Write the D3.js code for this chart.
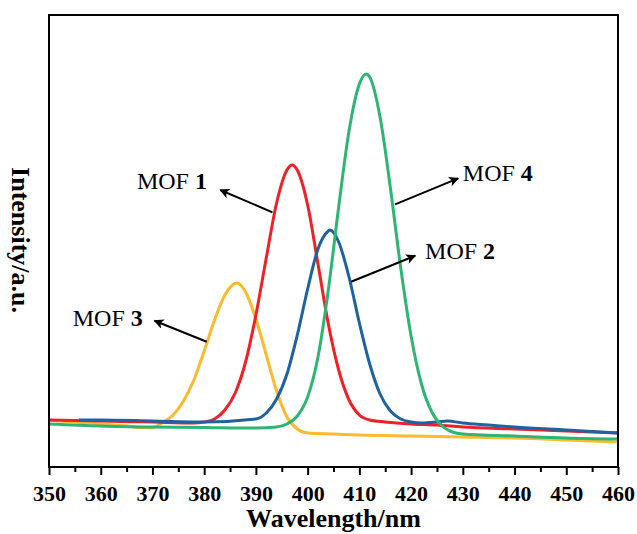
<!DOCTYPE html>
<meta charset="utf-8">
<script src="https://d3js.org/d3.v7.min.js"></script>
<style type="text/css">
body { margin: 0; background: #fff; }
.chart text { font-family: "Liberation Serif", "Times New Roman", serif; fill: #000; }
.axis line { stroke: #000; stroke-width: 2; }
.axis text { font-size: 22px; font-weight: bold; }
.titulo { font-size: 26px; font-weight: bold; }
.rotulo { font-size: 24px; }
.serie { fill: none; stroke-width: 3; stroke-linejoin: round; }
</style>
<body>
<div id="canvas"></div>
<script>

var mof1_nm = [350, 360, 370, 378, 380, 382, 384, 386, 388, 390, 392, 394, 396, 397, 398, 400, 402, 404, 406, 408, 410, 412, 415, 420, 425, 430, 440, 450, 460];
var mof1_int = [47, 46, 45, 44, 45, 48, 57, 74, 105, 152, 209, 264, 297, 302, 297, 262, 203, 143, 97, 67, 52, 47, 45, 43, 42, 40, 38, 36, 34];

var mof2_nm = [355.8, 360, 370, 380, 390, 392, 394, 396, 398, 400, 402, 404, 404.3, 406, 408, 410, 412, 414, 416, 418, 420, 422, 425, 427, 430, 435, 440, 450, 460];
var mof2_int = [47, 47, 46, 45, 48, 54, 68, 93, 132, 178, 218, 236, 237, 225, 190, 144, 103, 73, 56, 48, 45, 44, 45, 46, 44, 42, 40, 37, 34];

var mof3_nm = [350, 355, 360, 365, 368, 370, 372, 374, 376, 378, 380, 382, 384, 386.3, 388, 390, 392, 394, 396, 398, 400, 405, 410, 420, 430, 440, 450, 460];
var mof3_int = [47, 45, 43, 41, 39.5, 39.5, 44.5, 52, 66, 87, 116, 147, 172, 184, 175, 148, 112, 76, 50, 38, 34, 33, 32, 31, 30, 29, 27, 25];

var mof4_nm = [350, 360, 370, 380, 390, 394, 396, 398, 400, 402, 404, 406, 408, 410, 411.3, 412, 414, 416, 418, 420, 422, 424, 426, 428, 430, 440, 450, 460];
var mof4_int = [43, 41, 40, 39.5, 39, 40, 43, 51, 70, 110, 177, 260, 336, 383, 393, 390, 350, 279, 199, 131, 83, 55, 41, 35, 33, 31, 29, 28];

var series = [
	{"nome": "3", "cor": "#FCBA2C", "nm": mof3_nm, "int": mof3_int},
	{"nome": "1", "cor": "#EE2127", "nm": mof1_nm, "int": mof1_int},
	{"nome": "2", "cor": "#1F62A0", "nm": mof2_nm, "int": mof2_int},
	{"nome": "4", "cor": "#2FB573", "nm": mof4_nm, "int": mof4_int}
];

// rotulos: posicao do texto e da seta em coordenadas de dados
var rotulos = [
	{"nome": "1", "texto": [367.0, 278], "de": [393.2, 254.7], "para": [383.1, 277]},
	{"nome": "3", "texto": [354.6, 141.3], "de": [380.5, 125.3], "para": [370.4, 146.3]},
	{"nome": "4", "texto": [430.0, 286.3], "de": [416.9, 262.7], "para": [429.1, 288.7]},
	{"nome": "2", "texto": [422.7, 208], "de": [408.4, 185.3], "para": [420.8, 211.3]}
];

var ticks_maior = d3.range(350, 461, 10);
var ticks_menor = d3.range(355, 460, 10);

var width = 637;
var height = 534;
var margin = {top: 15, right: 19, bottom: 67, left: 49};

var svg = d3.select('#canvas')
	.append("svg")
	.attr("class", "chart")
	.attr("width", width)
	.attr("height", height);

var x = d3.scaleLinear()
	.domain([350, 460])
	.range([margin.left, width - margin.right]);

var y = d3.scaleLinear()
	.domain([0, 452])
	.range([height - margin.bottom, margin.top]);

// seta
svg.append("defs").append("marker")
	.attr("id", "seta")
	.attr("viewBox", "0 0 10 10")
	.attr("refX", 9)
	.attr("refY", 5)
	.attr("markerUnits", "userSpaceOnUse")
	.attr("markerWidth", 13)
	.attr("markerHeight", 10)
	.attr("orient", "auto")
	.append("path")
	.attr("d", "M0,0 L10,5 L0,10 L2.5,5 Z")
	.attr("fill", "#000");

// eixo X --------------------------------------------------------
svg.append("g")
	.attr("class", "axis")
	.attr("transform", "translate(0," + y(0) + ")")
	.call(d3.axisBottom(x).tickValues(ticks_menor).tickSize(5).tickFormat(""))
	.call(function(g) { g.select(".domain").remove(); });

svg.append("g")
	.attr("class", "axis")
	.attr("transform", "translate(0," + y(0) + ")")
	.call(d3.axisBottom(x).tickValues(ticks_maior).tickSize(8).tickPadding(10).tickFormat(d3.format("d")))
	.call(function(g) { g.select(".domain").remove(); });

// curvas --------------------------------------------------------
var line = d3.line()
	.x(function(d) { return x(d[0]); })
	.y(function(d) { return y(d[1]); })
	.curve(d3.curveMonotoneX);

series.forEach(function(s) {
	svg.append("path")
		.attr("class", "serie")
		.attr("d", line(d3.zip(s.nm, s.int)))
		.style("stroke", s.cor);
});

// moldura
svg.append("rect")
	.attr("x", x(350))
	.attr("y", y(452))
	.attr("width", x(460) - x(350))
	.attr("height", y(0) - y(452))
	.attr("fill", "none")
	.attr("stroke", "#000")
	.attr("stroke-width", 2);

// rotulos com setas ---------------------------------------------
rotulos.forEach(function(r) {
	svg.append("line")
		.attr("x1", x(r.de[0]))
		.attr("y1", y(r.de[1]))
		.attr("x2", x(r.para[0]))
		.attr("y2", y(r.para[1]))
		.attr("stroke", "#000")
		.attr("stroke-width", 2)
		.attr("marker-end", "url(#seta)");

	var t = svg.append("text")
		.attr("class", "rotulo")
		.attr("x", x(r.texto[0]))
		.attr("y", y(r.texto[1]));
	t.append("tspan").text("MOF ");
	t.append("tspan").style("font-weight", "bold").text(r.nome);
});

// titulos dos eixos
svg.append("text")
	.attr("class", "titulo")
	.attr("text-anchor", "middle")
	.attr("x", (x(350) + x(460)) / 2)
	.attr("y", 527)
	.text("Wavelength/nm");

svg.append("text")
	.attr("class", "titulo")
	.attr("text-anchor", "middle")
	.attr("transform", "translate(12,240) rotate(90)")
	.text("Intensity/a.u.");
</script>
</body>
